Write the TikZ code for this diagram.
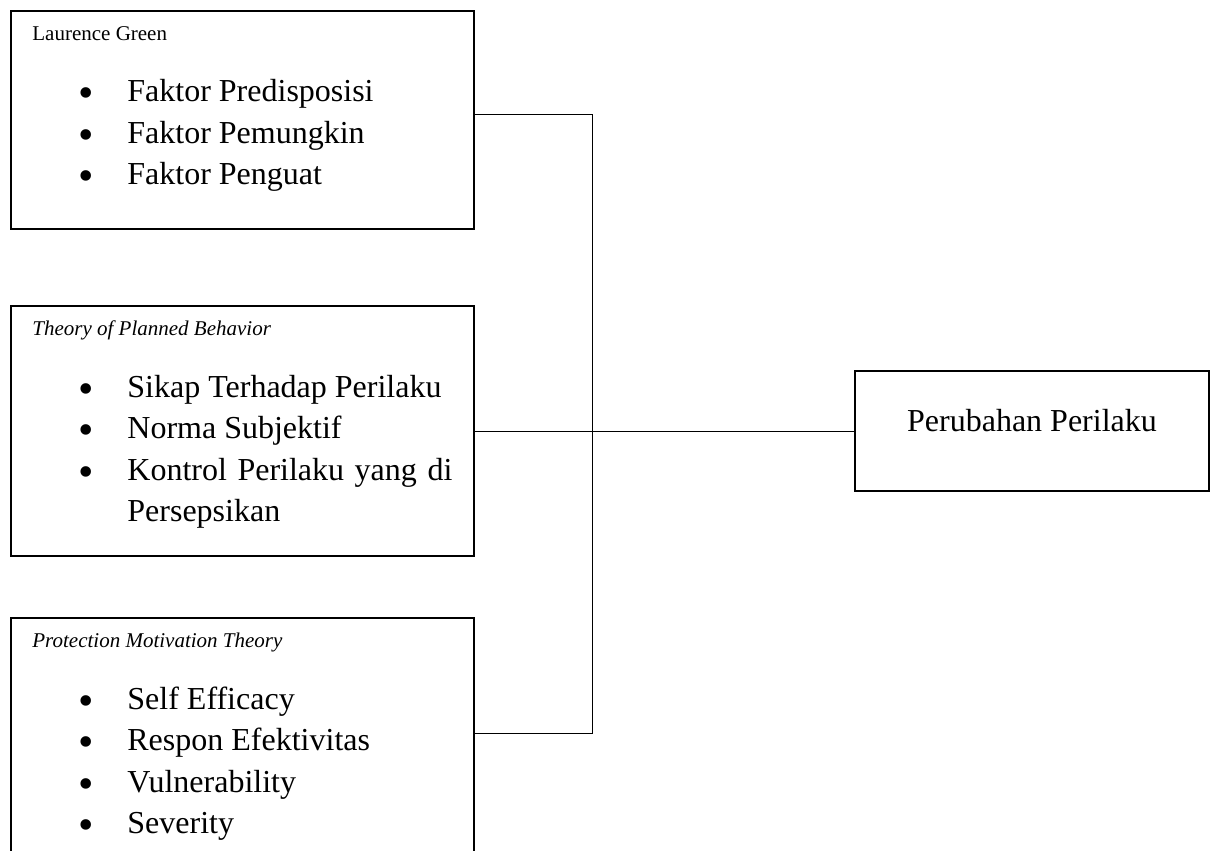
\documentclass[tikz,border=0pt]{standalone}
\usepackage{fontspec}
\setmainfont{Liberation Serif}
\usetikzlibrary{positioning}

\newcommand{\blt}{\llap{\raisebox{-3.2pt}{\fontsize{22}{0}\selectfont\textbullet}\hspace{16.65pt}}}

\begin{document}
\begin{tikzpicture}[x=0.5pt, y=-0.5pt,
    panel/.style={draw, line width=1pt, anchor=north west, inner sep=0pt, minimum width=231.5pt},
    heading/.style={font=\fontsize{10.5}{12.6}\selectfont, inner sep=0pt},
    factor/.style={font=\fontsize{16}{20.75}\selectfont, inner sep=0pt, text width=162.5pt, align=justify},
    link/.style={line width=0.5pt}]

  \clip (0,0) rectangle (1216,851);

  % Laurence Green
  \node[panel, minimum height=109pt] (green) at (10,10) {};
  \node[heading, below right=15.25pt and 11pt of green.north west, anchor=base west] (green-title) {Laurence Green};
  \node[factor, below right=45.75pt and 58.5pt of green.north west, anchor=base west] (green-1) {\blt Faktor Predisposisi};
  \node[factor, below=20.75pt of green-1.base west, anchor=base west] (green-2) {\blt Faktor Pemungkin};
  \node[factor, below=20.75pt of green-2.base west, anchor=base west] (green-3) {\blt Faktor Penguat};

  % Theory of Planned Behavior
  \node[panel, minimum height=125pt] (tpb) at (10,305) {};
  \node[heading, below right=15pt and 11pt of tpb.north west, anchor=base west] (tpb-title) {\itshape Theory of Planned Behavior};
  \node[factor, below right=46pt and 58.5pt of tpb.north west, anchor=base west] (tpb-1) {\blt Sikap Terhadap Perilaku};
  \node[factor, below=20.75pt of tpb-1.base west, anchor=base west] (tpb-2) {\blt Norma Subjektif};
  \node[factor, below=20.75pt of tpb-2.base west, anchor=base west] (tpb-3) {\blt Kontrol Perilaku yang di Persepsikan};

  % Protection Motivation Theory
  \node[panel, minimum height=120pt] (pmt) at (10,617) {};
  \node[heading, below right=15pt and 11pt of pmt.north west, anchor=base west] (pmt-title) {\itshape Protection Motivation Theory};
  \node[factor, below right=46pt and 58.5pt of pmt.north west, anchor=base west] (pmt-1) {\blt Self Efficacy};
  \node[factor, below=20.75pt of pmt-1.base west, anchor=base west] (pmt-2) {\blt Respon Efektivitas};
  \node[factor, below=20.75pt of pmt-2.base west, anchor=base west] (pmt-3) {\blt Vulnerability};
  \node[factor, below=20.75pt of pmt-3.base west, anchor=base west] (pmt-4) {\blt Severity};

  % Outcome
  \node[panel, minimum width=177pt, minimum height=60pt, text height=30pt, text depth=30pt,
        font=\fontsize{16}{20.75}\selectfont] (change) at (854,370) {Perubahan Perilaku};

  % Connectors
  \coordinate (hub) at (592,430);
  \draw[link] ([yshift=3pt]green.east) -| (hub);
  \draw[link] ([yshift=2.5pt]pmt.east) -| (hub);
  \draw[link] (tpb.east) -- (change.west);
\end{tikzpicture}
\end{document}
